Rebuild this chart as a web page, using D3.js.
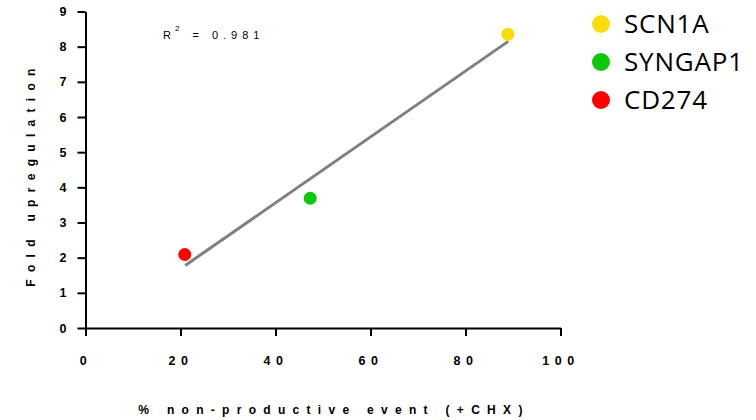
<!DOCTYPE html>
<html>
<head>
<meta charset="utf-8">
<script src="https://cdn.jsdelivr.net/npm/d3@7"></script>
<style>
  html, body { margin: 0; padding: 0; background: #fff; }
</style>
</head>
<body>
<svg id="chart" width="756" height="420"></svg>
<script>
// data
const genes = ["SCN1A", "SYNGAP1", "CD274"];
const pctNonProductive = [88.9, 47.3, 20.9];
const foldUp = [8.35, 3.69, 2.09];
const geneColors = ["#f9dc0c", "#0cc80c", "#ff0000"];
const fitX = [21, 89];
const fitY = [1.78, 8.15];
const xTicks = [0, 20, 40, 60, 80, 100];
const yTicks = [0, 1, 2, 3, 4, 5, 6, 7, 8, 9];
const r2Label = "0.981";

const W = 756, H = 420;
const m = { left: 85.5, right: 195.5, top: 11.5, bottom: 92 };
const iW = W - m.left - m.right;
const iH = H - m.top - m.bottom;

const svg = d3.select("#chart");
const g = svg.append("g").attr("transform", `translate(${m.left},${m.top})`);

const x = d3.scaleLinear().domain([0, 100]).range([0, iW]);
const y = d3.scaleLinear().domain([0, 9]).range([iH, 0]);

const axisFont = "'Liberation Sans', Arial, sans-serif";

// X axis
g.append("g")
  .attr("transform", `translate(0,${iH})`)
  .call(d3.axisBottom(x).tickValues(xTicks).tickSize(8).tickPadding(20).tickSizeOuter(0).tickFormat(d3.format("d")))
  .call(ax => {
    ax.select(".domain").attr("stroke", "#000").attr("stroke-width", 2);
    ax.selectAll(".tick line").attr("stroke", "#000").attr("stroke-width", 2);
    ax.selectAll(".tick text")
      .style("fill", "#000").style("font-size", "12.5px").style("font-weight", "bold")
      .style("font-family", axisFont).style("letter-spacing", "5.5px");
  });

// Y axis
g.append("g")
  .call(d3.axisLeft(y).tickValues(yTicks).tickSize(8).tickPadding(11).tickSizeOuter(0))
  .call(ax => {
    ax.select(".domain").attr("stroke", "#000").attr("stroke-width", 2);
    ax.selectAll(".tick line").attr("stroke", "#000").attr("stroke-width", 2);
    ax.selectAll(".tick text")
      .style("fill", "#000").style("font-size", "12.5px").style("font-weight", "bold")
      .style("font-family", axisFont);
  });

// fit line
const fit = fitX.map((v, i) => [v, fitY[i]]);
g.append("path")
  .datum(fit)
  .attr("d", d3.line().x(d => x(d[0])).y(d => y(d[1])))
  .attr("stroke", "#808080").attr("stroke-width", 3).attr("fill", "none");

// points
g.selectAll(".pt")
  .data(genes).join("circle")
  .attr("class", "pt")
  .attr("cx", (d, i) => x(pctNonProductive[i]))
  .attr("cy", (d, i) => y(foldUp[i]))
  .attr("r", 6.5)
  .attr("fill", (d, i) => geneColors[i]);

// R squared label
const r2 = svg.append("text")
  .attr("x", 163).attr("y", 39)
  .style("font-size", "11px").style("font-family", axisFont)
  .style("letter-spacing", "5px").style("fill", "#000");
r2.append("tspan").text("R");
r2.append("tspan").attr("dx", -1).attr("dy", -8).style("font-size", "8px").text("2");
r2.append("tspan").attr("dy", 8).text(" = " + r2Label);

// axis titles
svg.append("text")
  .attr("transform", `translate(35,${174}) rotate(-90)`)
  .attr("text-anchor", "middle")
  .style("font-size", "12px").style("font-weight", "bold").style("font-family", axisFont)
  .style("letter-spacing", "7.3px")
  .text("Fold upregulation");

svg.append("text")
  .attr("x", 334).attr("y", 414)
  .attr("text-anchor", "middle")
  .style("font-size", "12px").style("font-weight", "bold").style("font-family", axisFont)
  .style("letter-spacing", "7.3px")
  .text("% non-productive event (+CHX)");

// legend
const leg = svg.append("g").attr("transform", "translate(601,24)");
genes.forEach((k, i) => {
  const ly = i * 38;
  leg.append("circle").attr("cx", 0).attr("cy", ly).attr("r", 9).attr("fill", geneColors[i]);
  leg.append("text")
    .attr("x", 23).attr("y", ly + 9)
    .style("font-size", "26px").style("font-family", "'Open Sans', sans-serif")
    .style("letter-spacing", "0.8px")
    .style("fill", "#000")
    .text(k);
});
</script>
</body>
</html>
